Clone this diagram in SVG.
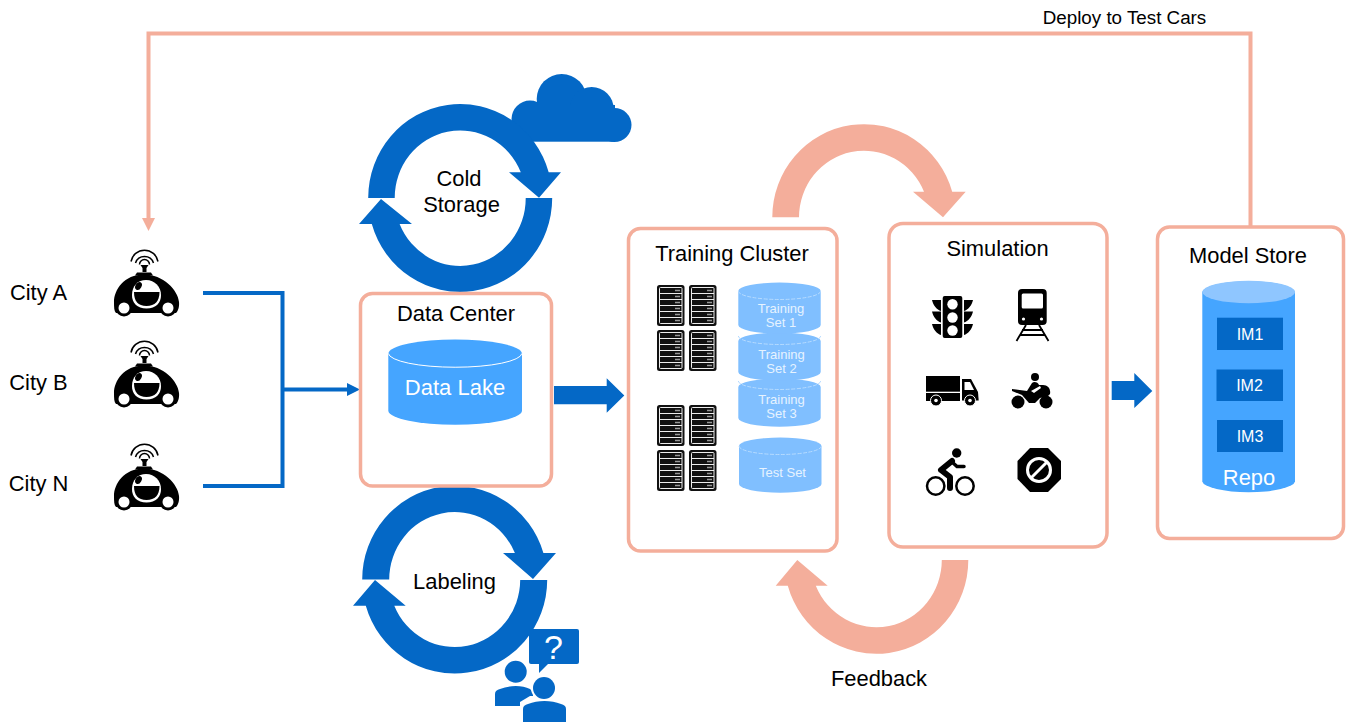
<svg xmlns="http://www.w3.org/2000/svg" xmlns:xlink="http://www.w3.org/1999/xlink" width="1347" height="722" viewBox="0 0 1347 722">
<style>
text{font-family:"Liberation Sans",Arial,sans-serif;text-anchor:middle;fill:#000}
.t20,.t21{font-size:21.9px}
.w{fill:#fff}
.box{fill:#fff;stroke:#F4AE9B;stroke-width:3.5}
.blue{fill:#0468C6}.sal{fill:#F4AE9B}
.conn{fill:none;stroke:#0468C6;stroke-width:4}
.dep{fill:none;stroke:#F4AE9B;stroke-width:4}
.cyl{fill:#80BFFF}.lid{fill:none;stroke:#B5DBFF;stroke-width:1;stroke-dasharray:4 1.5}
.im{fill:#0468C6}
</style>
<defs>
<symbol id="car" overflow="visible" width="1" height="1">
<g fill="none" stroke="#000" stroke-width="1.5"><path d="M131 261.500A13.700 13.700 0 0 1 158 261.500"/><path d="M135.500 263A9.500 9.500 0 0 1 153.500 263"/><path d="M139.500 264.500A5 5 0 0 1 149.500 264.500"/></g>
<path d="M140.500 265h8l-2 3v4h-4v-4z"/><path d="M137 272.500h14l2 3h-18z"/>
<path d="M114 302C114 290 124 274.500 144 274.500C163 274.500 178 290 179 302C179.500 307 178 311 176 313H116C114 311 114 307 114 302Z"/>
<path d="M132 295C132 286 138 280 146 280C155 280 161 287 161 295C161 303 156 308.500 146.500 308.500C137 308.500 132 303 132 295Z" fill="#fff"/>
<path d="M134 292H159.500C159.500 301 155 306 146.500 306C138 306 134 301 134 292Z"/>
<ellipse cx="138.500" cy="286" rx="3" ry="4.200" transform="rotate(30 138.500 286)"/>
<circle cx="124" cy="308" r="8.500" fill="#000"/><circle cx="124" cy="308" r="5.500" fill="#fff"/>
<circle cx="168" cy="308" r="8.500" fill="#000"/><circle cx="168" cy="308" r="5.500" fill="#fff"/>
</symbol>
<symbol id="rack" overflow="visible" width="1" height="1">
<rect width="27.500" height="41" rx="2.500" fill="#111"/>
<rect x="2.500" y="2.500" width="22.500" height="36" rx="1" fill="none" stroke="#eee" stroke-width="1"/>
<path d="M2.500 8.500H25M2.500 14.500H25M2.500 20.500H25M2.500 26.500H25M2.500 32.500H25" stroke="#eee" stroke-width="1" fill="none"/>
<path d="M18 5.500H23M18 11.500H23M18 17.500H23M18 23.500H23M18 29.500H23M18 35.500H23" stroke="#999" stroke-width="1.500" fill="none"/>
</symbol>
</defs>

<g id="connectors">
<path class="conn" d="M203 293H282.500V486H203M282 389.500H349"/>
<polygon class="blue" points="347,383 360,389.500 347,396"/>
<path class="dep" d="M1250.500 226V33.500H148.500V220"/>
<polygon class="sal" points="142,218 155,218 148.500,231"/>
<polygon id="arrow-to-training" class="blue" points="554,386 606.700,386 606.700,378.300 624.300,395.400 606.700,412.700 606.700,404.300 554,404.300"/>
<polygon id="arrow-to-store" class="blue" points="1111.700,381 1134.300,381 1134.300,373 1152.300,391 1134.300,408 1134.300,400 1111.700,400"/>
<path id="loop-top" class="sal" d="M772.300 217.300A91.700 93 0 0 1 952.200 191.700H965.700L943 217.300L913 191.700H924A65 66.600 0 0 0 799 217.300Z"/>
<path id="loop-bottom" class="sal" d="M968.300 560A92 93.700 0 0 1 787.800 585.700H775.700L797.300 560L827.700 585.700H815.800A65.500 67.300 0 0 0 941.800 560Z"/>
</g>

<g id="city-a"><use xlink:href="#car" href="#car"/><text class="t20" x="38.500" y="300">City A</text></g>
<g id="city-b"><use xlink:href="#car" href="#car" y="91"/><text class="t20" x="38.500" y="390">City B</text></g>
<g id="city-n"><use xlink:href="#car" href="#car" y="194"/><text class="t20" x="38.500" y="491">City N</text></g>

<g id="cold-storage">
<circle class="blue" cx="530" cy="119" r="18.500"/><circle class="blue" cx="561.700" cy="99" r="25"/><circle class="blue" cx="591.700" cy="109" r="22"/><circle class="blue" cx="614.500" cy="125" r="17"/><rect class="blue" x="525" y="105" width="90" height="36.700"/>
<path class="blue" d="M368.200 198A92 94 0 0 1 548.700 172.300H561L539 197.700L509 172.300H520.800A65.500 67.500 0 0 0 394.700 198Z"/>
<path class="blue" d="M552.200 198A92 94 0 0 1 371.800 224H359L381 199L412 224H399.600A65.500 67.500 0 0 0 525.700 198Z"/>
<text class="t21" x="459" y="186">Cold</text><text class="t21" x="461.500" y="211.500">Storage</text>
</g>

<g id="labeling">
<path class="blue" d="M362.200 579.500A92.500 93.700 0 0 1 543.400 553H556L533 579L503 553H514.900A65.500 67.500 0 0 0 389.200 579.500Z"/>
<path class="blue" d="M547.200 580A92.500 93.700 0 0 1 365.800 605.700H353L375 580L405.700 605.700H394.300A65.500 67.500 0 0 0 520.200 580Z"/>
<text class="t20" x="454.500" y="588.500">Labeling</text>
<rect class="blue" x="529" y="629" width="50" height="35" rx="2"/><polygon class="blue" points="539,663 539,673 549,663"/>
<text x="553.500" y="659" style="font-size:34px;fill:#fff">?</text>
<circle class="blue" cx="515.700" cy="671.700" r="11"/>
<path class="blue" d="M495 706V694C495 691 497 690 500 689C510 685 522 685 530 689L533 692V706Z"/>
<circle cx="544" cy="688" r="13" fill="#fff"/>
<path d="M520 722V702L530 696H558L569 702V722Z" fill="#fff"/>
<circle class="blue" cx="544" cy="688" r="11"/>
<path class="blue" d="M523 722V709C523 706 525 705 528 704C538 700 551 700 561 704C564 705 566 706 566 709V722Z"/>
</g>

<g id="data-center">
<rect class="box" x="360.500" y="293.500" width="191" height="192.500" rx="12"/>
<text class="t20" x="456" y="321">Data Center</text>
<path d="M388.300 353.400A66.900 14.400 0 0 1 522 353.400V411A66.900 14.400 0 0 1 388.300 411Z" fill="#45A5FF"/>
<path d="M388.300 353.400A66.900 14.400 0 0 0 522 353.400" fill="none" stroke="#fff" stroke-width="1"/>
<text class="w" x="455" y="395" style="font-size:22px;fill:#fff">Data Lake</text>
</g>

<g id="training-cluster">
<rect class="box" x="628.500" y="228.500" width="208.500" height="322.500" rx="12"/>
<text class="t21" x="732" y="261">Training Cluster</text>
<use xlink:href="#rack" href="#rack" x="657" y="285"/><use xlink:href="#rack" href="#rack" x="689" y="285"/>
<use xlink:href="#rack" href="#rack" x="657" y="330"/><use xlink:href="#rack" href="#rack" x="689" y="330"/>
<use xlink:href="#rack" href="#rack" x="657" y="405"/><use xlink:href="#rack" href="#rack" x="689" y="405"/>
<use xlink:href="#rack" href="#rack" x="657" y="450"/><use xlink:href="#rack" href="#rack" x="689" y="450"/>
<g id="training-set-3"><path class="cyl" d="M738.300 387A41.200 8.500 0 0 1 820.700 387V418A41.200 8.700 0 0 1 738.300 418Z"/><path class="lid" d="M738.300 381A41.200 8.500 0 0 0 820.700 381"/><text x="781.500" y="404" style="font-size:13px;fill:#E6F3FF">Training</text><text x="781.500" y="418" style="font-size:13px;fill:#E6F3FF">Set 3</text></g>
<g id="training-set-2"><path class="cyl" d="M738.300 341A41.200 8.500 0 0 1 820.700 341V372A41.200 8.700 0 0 1 738.300 372Z"/><path class="lid" d="M738.300 336A41.200 8.500 0 0 0 820.700 336"/><text x="781.500" y="358.500" style="font-size:13px;fill:#E6F3FF">Training</text><text x="781.500" y="373" style="font-size:13px;fill:#E6F3FF">Set 2</text></g>
<g id="training-set-1"><path class="cyl" d="M738.300 291A41.200 8.500 0 0 1 820.700 291V325A41.200 8.700 0 0 1 738.300 325Z"/><path class="lid" d="M738.300 291A41.200 8.500 0 0 0 820.700 291"/><text x="781" y="313" style="font-size:13px;fill:#E6F3FF">Training</text><text x="781" y="327" style="font-size:13px;fill:#E6F3FF">Set 1</text></g>
<g id="test-set"><path class="cyl" d="M739 446A41.200 8.500 0 0 1 821.500 446V484A41.200 8.700 0 0 1 739 484Z"/><path class="lid" d="M739 446A41.200 8.500 0 0 0 821.500 446"/><text x="782.500" y="477" style="font-size:13px;fill:#E6F3FF">Test Set</text></g>
</g>

<g id="simulation">
<rect class="box" x="889" y="223.500" width="218" height="323.500" rx="14"/>
<text class="t20" x="997.500" y="256">Simulation</text>
<g id="traffic-light">
<rect x="942.700" y="296" width="19.600" height="42" rx="2"/>
<circle class="w" cx="952.500" cy="304.300" r="5.200"/><circle class="w" cx="952.500" cy="317.500" r="5.200"/><circle class="w" cx="952.500" cy="330.500" r="5.200"/>
<path d="M932 300H941V311C937 310 933 305 932 300ZM932 311.500H941V322.500C937 321.500 933 316.500 932 311.500ZM932 324H941V335C937 334 933 329 932 324Z"/>
<path d="M973 300H964V311C968 310 972 305 973 300ZM973 311.500H964V322.500C968 321.500 972 316.500 973 311.500ZM973 324H964V335C968 334 972 329 973 324Z"/>
</g>
<g id="train">
<rect x="1018" y="289" width="28.700" height="36" rx="4"/><rect class="w" x="1021.700" y="293.500" width="21.300" height="15" rx="1.500"/>
<circle class="w" cx="1023.500" cy="319" r="1.600"/><circle class="w" cx="1041.500" cy="319" r="1.600"/>
<path d="M1026 325L1016.500 341M1039 325L1048.500 341M1022 330H1043M1020 335H1045" stroke="#000" stroke-width="1.800" fill="none"/>
</g>
<g id="truck">
<rect x="926" y="376" width="34" height="15.700"/><rect x="926" y="393" width="34" height="8"/>
<path d="M962 379H971L978 392L978.700 400.500H962Z"/><path class="w" d="M964.500 382H970L974 390H964.500Z"/>
<circle cx="936" cy="400.500" r="5.500" stroke="#fff" stroke-width="1"/><circle cx="970" cy="400.500" r="5.500" stroke="#fff" stroke-width="1"/>
<circle class="w" cx="936" cy="400.500" r="1.800"/><circle class="w" cx="970" cy="400.500" r="1.800"/>
</g>
<g id="motorbike">
<circle cx="1035" cy="377" r="4"/><circle cx="1018" cy="402" r="6.500"/><circle cx="1046" cy="402" r="6.500"/>
<path d="M1012 389L1027 391L1032 383C1034 381 1038 382 1039 385L1043 385C1048 385 1051 389 1050 394L1048 396L1040 398L1035 403H1029L1022 395L1012 391Z"/>
<path class="w" d="M1031 391L1040 386L1041 388L1034 393Z"/>
</g>
<g id="cyclist">
<circle cx="956.700" cy="453" r="4.700"/>
<circle cx="935.700" cy="486" r="8.700" fill="none" stroke="#000" stroke-width="2.500"/><circle cx="965" cy="486" r="8.700" fill="none" stroke="#000" stroke-width="2.500"/>
<path d="M952 461L941 470L950 477V488" fill="none" stroke="#000" stroke-width="6" stroke-linejoin="round" stroke-linecap="round"/>
<path d="M952 462L957 466.500H964" fill="none" stroke="#000" stroke-width="3.500" stroke-linecap="round"/>
</g>
<g id="no-entry">
<polygon points="1030,448 1048,448 1061,461 1061,479 1048,492 1030,492 1017.500,479 1017.500,461"/>
<circle cx="1039" cy="470" r="11.500" fill="none" stroke="#fff" stroke-width="3"/>
<path d="M1031 478L1047 462" stroke="#fff" stroke-width="3"/>
</g>
</g>

<g id="model-store">
<rect class="box" x="1157.500" y="227" width="186" height="311.500" rx="12"/>
<text class="t20" x="1248" y="263">Model Store</text>
<path d="M1202.300 292A46.400 11.200 0 0 1 1295 292V481.500A46.400 11.200 0 0 1 1202.300 481.500Z" fill="#45A5FF"/>
<ellipse cx="1248.700" cy="292" rx="46.400" ry="11.200" fill="#8FC6FF"/>
<rect class="im" x="1217" y="317.700" width="66" height="32.300"/><text x="1250" y="340" style="font-size:16px;fill:#fff">IM1</text>
<rect class="im" x="1216.500" y="369.500" width="66.500" height="31.500"/><text x="1249.500" y="391" style="font-size:16px;fill:#fff">IM2</text>
<rect class="im" x="1217" y="420" width="66" height="32"/><text x="1250" y="441.500" style="font-size:16px;fill:#fff">IM3</text>
<text x="1249" y="485" style="font-size:21.900px;fill:#fff">Repo</text>
</g>

<text id="deploy-label" x="1124.500" y="23.500" style="font-size:18.800px">Deploy to Test Cars</text>
<text id="feedback-label" class="t20" x="879" y="686">Feedback</text>
</svg>
